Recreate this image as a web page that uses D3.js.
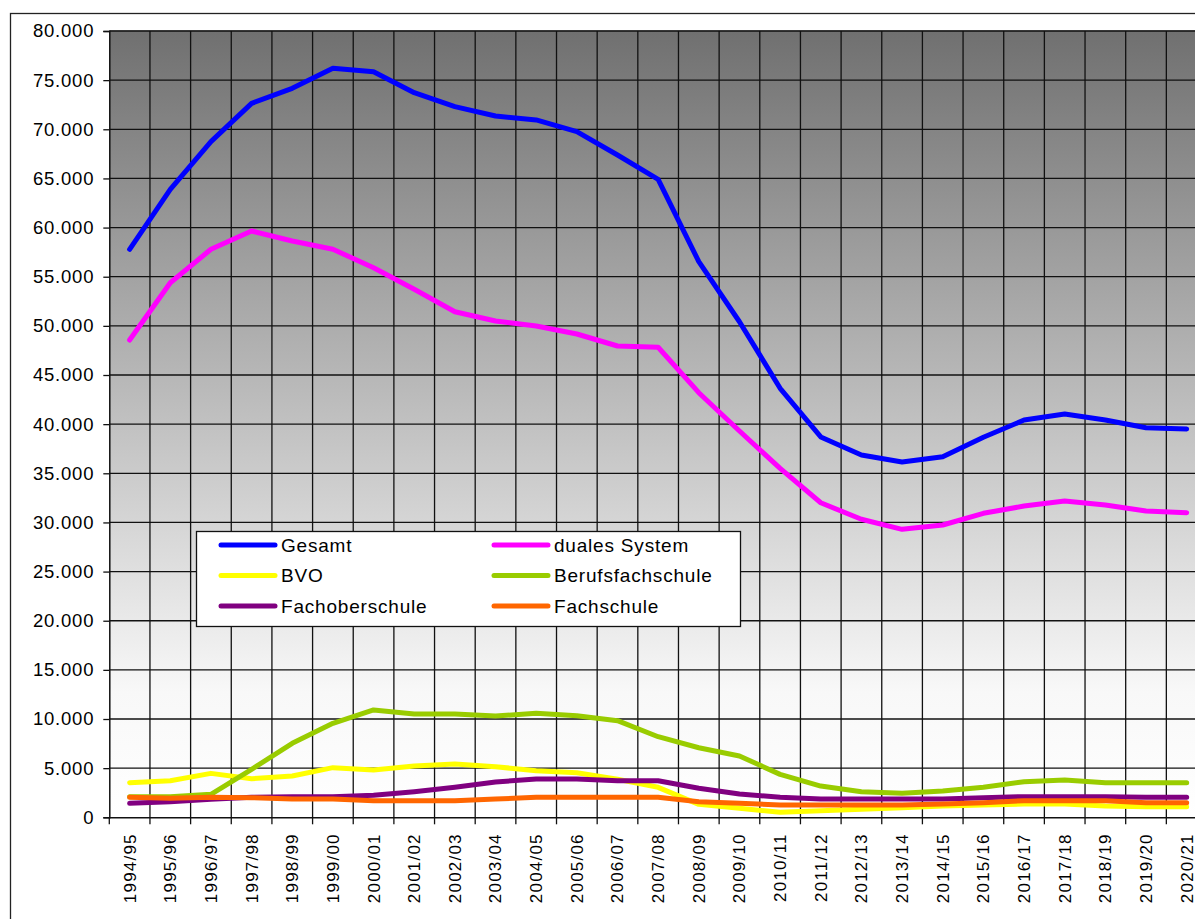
<!DOCTYPE html>
<html>
<head>
<meta charset="utf-8">
<script src="https://cdn.jsdelivr.net/npm/d3@7"></script>
<style>
  body { margin: 0; background: #fff; }
  text { font-family: "Liberation Sans", Arial, sans-serif; fill: #000; }
</style>
</head>
<body>
<div id="grafico"></div>
<script>
// Kategorien (Schuljahre)
const jahre = ['1994/95', '1995/96', '1996/97', '1997/98', '1998/99', '1999/00', '2000/01',
  '2001/02', '2002/03', '2003/04', '2004/05', '2005/06', '2006/07', '2007/08', '2008/09',
  '2009/10', '2010/11', '2011/12', '2012/13', '2013/14', '2014/15', '2015/16', '2016/17',
  '2017/18', '2018/19', '2019/20', '2020/21'];

// Werte je Reihe
const gesamt = [57790, 63890, 68740, 72640, 74170, 76200, 75860, 73720, 72300, 71350,
  70950, 69760, 67380, 64910, 56530, 50420, 43650, 38700, 36860, 36150, 36690, 38660,
  40420, 41030, 40420, 39640, 39510];
const dualesSystem = [48560, 54390, 57790, 59650, 58630, 57790, 55920, 53720, 51440, 50500,
  49990, 49170, 47950, 47820, 43200, 39300, 35500, 32000, 30320, 29300, 29740, 30930,
  31670, 32180, 31770, 31160, 30990];
const bvo = [3520, 3720, 4470, 3930, 4200, 5050, 4810, 5220, 5420, 5150, 4740, 4540, 3870,
  3050, 1320, 920, 510, 670, 810, 980, 1150, 1250, 1350, 1350, 1150, 1080, 1080];
const berufsfachschule = [2100, 2100, 2340, 4880, 7530, 9560, 10920, 10510, 10510, 10300,
  10580, 10340, 9830, 8200, 7080, 6240, 4370, 3180, 2600, 2440, 2680, 3050, 3620, 3800,
  3520, 3520, 3520];
const fachoberschule = [1420, 1590, 1830, 2030, 2100, 2100, 2240, 2600, 3050, 3590, 3900,
  3900, 3720, 3720, 2950, 2370, 2030, 1860, 1860, 1860, 1860, 2000, 2100, 2100, 2100,
  2030, 2030];
const fachschule = [2030, 1950, 2030, 2000, 1860, 1860, 1690, 1690, 1690, 1860, 2030, 2030,
  2030, 2030, 1590, 1420, 1250, 1250, 1250, 1250, 1350, 1490, 1690, 1690, 1690, 1490, 1490];

const yTicks = [0, 5000, 10000, 15000, 20000, 25000, 30000, 35000, 40000, 45000, 50000,
  55000, 60000, 65000, 70000, 75000, 80000];

const reihen = [
  { name: 'Gesamt', werte: gesamt, farbe: '#0000ff' },
  { name: 'duales System', werte: dualesSystem, farbe: '#ff00ff' },
  { name: 'BVO', werte: bvo, farbe: '#ffff00' },
  { name: 'Berufsfachschule', werte: berufsfachschule, farbe: '#99cc00' },
  { name: 'Fachoberschule', werte: fachoberschule, farbe: '#800080' },
  { name: 'Fachschule', werte: fachschule, farbe: '#ff6600' }
];

// Zeichenfläche
const breite = 1195;
const hoehe = 919;
const plot = { left: 109.3, right: 1207, top: 31, bottom: 817.3 };

const svg = d3.select('#grafico').append('svg')
  .attr('width', breite)
  .attr('height', hoehe);

// Rahmen um das ganze Diagramm
svg.append('rect')
  .attr('x', 10.5).attr('y', 13.5)
  .attr('width', 1200).attr('height', 940)
  .attr('fill', '#fff')
  .attr('stroke', '#222')
  .attr('stroke-width', 1.3);

const x = d3.scaleBand().domain(jahre).range([plot.left, plot.right]);
const y = d3.scaleLinear().domain([0, 80000]).range([plot.bottom, plot.top]);

// Hintergrund mit Verlauf
const defs = svg.append('defs');
const grad = defs.append('linearGradient')
  .attr('id', 'hg').attr('x1', 0).attr('y1', 0).attr('x2', 0).attr('y2', 1);
grad.append('stop').attr('offset', '0%').attr('stop-color', '#707070');
grad.append('stop').attr('offset', '84%').attr('stop-color', '#f8f8f8');
grad.append('stop').attr('offset', '100%').attr('stop-color', '#ffffff');

svg.append('rect')
  .attr('x', plot.left).attr('y', plot.top)
  .attr('width', plot.right - plot.left).attr('height', plot.bottom - plot.top)
  .attr('fill', 'url(#hg)');

svg.append('line')
  .attr('x1', plot.left).attr('x2', plot.right)
  .attr('y1', plot.top - 0.5).attr('y2', plot.top - 0.5)
  .attr('stroke', '#aaa').attr('stroke-width', 1);

// Gitterlinien
svg.append('g')
  .selectAll('line')
  .data(yTicks.slice(1))
  .enter().append('line')
  .attr('x1', plot.left).attr('x2', plot.right)
  .attr('y1', (d) => y(d)).attr('y2', (d) => y(d))
  .attr('stroke', '#111').attr('stroke-width', 1.3);

svg.append('g')
  .selectAll('line')
  .data(jahre.slice(1))
  .enter().append('line')
  .attr('x1', (d) => x(d)).attr('x2', (d) => x(d))
  .attr('y1', plot.top).attr('y2', plot.bottom)
  .attr('stroke', '#111').attr('stroke-width', 1.3);

// Y-Achse
const fmt = (v) => d3.format(',')(v).replace(/,/g, '.');
const yAchse = svg.append('g')
  .attr('transform', `translate(${plot.left},0)`)
  .call(d3.axisLeft(y).tickValues(yTicks).tickSize(6).tickPadding(9).tickFormat(fmt));
yAchse.select('.domain').attr('stroke', '#111').attr('stroke-width', 1.5);
yAchse.selectAll('.tick line').attr('stroke', '#111').attr('stroke-width', 1.3);
yAchse.selectAll('text')
  .style('font-size', '18.5px')
  .style('letter-spacing', '0.8px')
  .attr('fill', '#000');

// X-Achse
const xAchse = svg.append('g')
  .attr('transform', `translate(0,${plot.bottom})`)
  .call(d3.axisBottom(x).tickSize(0).tickPadding(0));
xAchse.select('.domain').attr('stroke', '#111').attr('stroke-width', 1.5);
xAchse.selectAll('.tick text')
  .attr('transform', 'rotate(-90)')
  .attr('x', -16)
  .attr('y', 0)
  .attr('dy', '0.35em')
  .attr('text-anchor', 'end')
  .style('font-size', '17px')
  .style('letter-spacing', '1.2px')
  .attr('fill', '#000');

// Teilstriche an den Kategoriegrenzen
svg.append('g')
  .selectAll('line')
  .data(jahre)
  .enter().append('line')
  .attr('x1', (d) => x(d)).attr('x2', (d) => x(d))
  .attr('y1', plot.bottom).attr('y2', plot.bottom + 7)
  .attr('stroke', '#111').attr('stroke-width', 1.3);

// Linien
const linie = d3.line()
  .x((d, i) => x(jahre[i]) + x.bandwidth() / 2)
  .y((d) => y(d));

svg.append('g')
  .selectAll('path')
  .data(reihen)
  .enter().append('path')
  .attr('d', (d) => linie(d.werte))
  .attr('fill', 'none')
  .attr('stroke', (d) => d.farbe)
  .attr('stroke-width', 5)
  .attr('stroke-linejoin', 'round')
  .attr('stroke-linecap', 'round');

// Legende
const legende = svg.append('g').attr('transform', 'translate(196,531)');
legende.append('rect')
  .attr('x', 0.5).attr('y', 0.5)
  .attr('width', 544).attr('height', 95)
  .attr('fill', '#fff')
  .attr('stroke', '#111')
  .attr('stroke-width', 1.3);

const eintrag = legende.selectAll('.eintrag')
  .data(reihen)
  .enter().append('g')
  .attr('class', 'eintrag')
  .attr('transform', (d, i) => `translate(${(i % 2) * 273},${14 + Math.floor(i / 2) * 30.5})`);

eintrag.append('line')
  .attr('x1', 25).attr('x2', 79)
  .attr('y1', 0).attr('y2', 0)
  .attr('stroke', (d) => d.farbe)
  .attr('stroke-width', 5)
  .attr('stroke-linecap', 'round');

eintrag.append('text')
  .attr('x', 85)
  .attr('y', 0)
  .attr('dy', '0.36em')
  .style('font-size', '19px')
  .style('letter-spacing', '0.8px')
  .text((d) => d.name);
</script>
</body>
</html>
